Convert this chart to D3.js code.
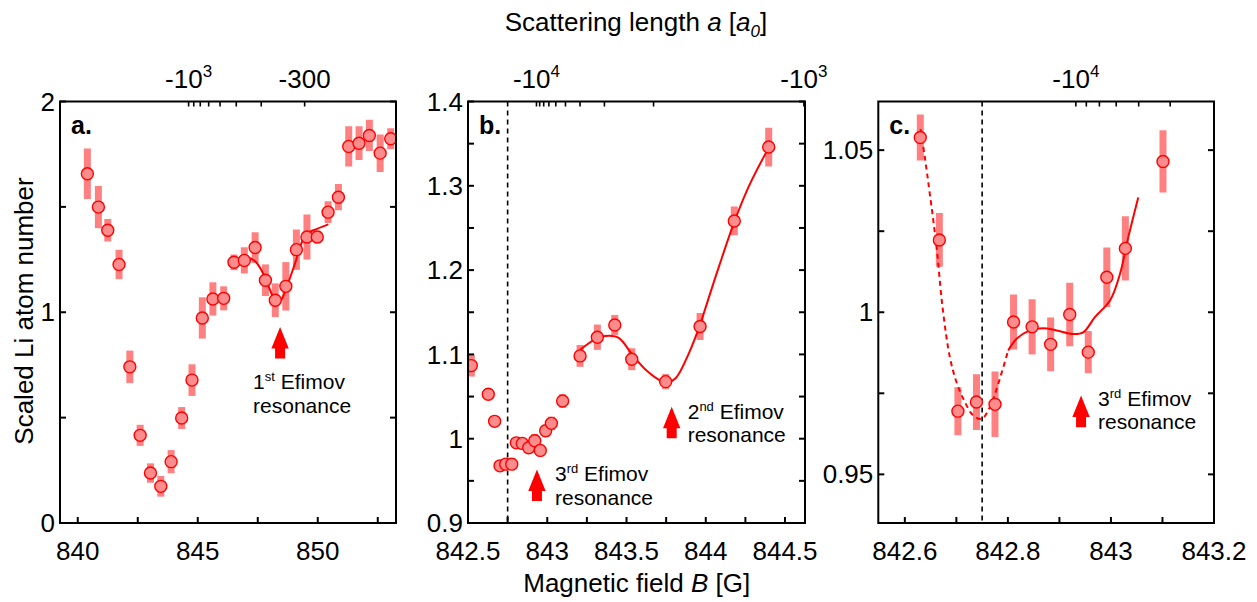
<!DOCTYPE html>
<html>
<head>
<meta charset="utf-8">
<script src="https://cdn.jsdelivr.net/npm/d3@7"></script>
<style>
  html, body { margin: 0; padding: 0; background: #ffffff; }
  svg { display: block; font-family: "Liberation Sans", Arial, Helvetica, sans-serif; }
</style>
</head>
<body>
<svg id="chart" width="1257" height="602"></svg>
<script>
// ---------------- DATA ----------------
// Panel a
const aField = [840.40,840.86,841.25,841.72,842.17,842.60,843.03,843.46,843.89,844.33,844.76,845.19,845.63,846.08,846.51,846.94,847.39,847.82,848.23,848.67,849.11,849.55,849.98,850.43,850.86,851.29,851.72,852.15,852.60,853.04];
const aAtoms = [1.657,1.499,1.389,1.227,0.741,0.416,0.237,0.174,0.291,0.498,0.678,0.973,1.063,1.066,1.237,1.246,1.307,1.152,1.057,1.123,1.297,1.357,1.357,1.475,1.546,1.787,1.802,1.839,1.755,1.823];
const aErr = [0.12,0.10,0.053,0.07,0.077,0.05,0.046,0.049,0.055,0.052,0.075,0.098,0.079,0.057,0.037,0.062,0.073,0.075,0.08,0.115,0.096,0.107,0.03,0.052,0.062,0.096,0.08,0.074,0.089,0.05];
const aFitField = [846.51,847.11,847.43,847.80,848.05,848.29,848.47,848.73,849.05,849.40,849.60,849.82,850.44];
const aFitAtoms = [1.238,1.259,1.237,1.167,1.095,1.041,1.057,1.128,1.231,1.349,1.377,1.389,1.417];

// Panel b
const bField = [842.521,842.628,842.668,842.702,842.738,842.776,842.805,842.843,842.883,842.921,842.956,842.990,843.026,843.097,843.207,843.316,843.426,843.533,843.747,843.964,844.180,844.397];
const bAtoms = [1.0867,1.0527,1.0206,0.9678,0.9698,0.9698,0.9951,0.9944,0.9892,0.9975,0.9861,1.0094,1.0182,1.0447,1.0982,1.1204,1.1348,1.0943,1.0677,1.1331,1.2583,1.3460];
const bErr = [0.013,0.004,0.006,0.003,0.003,0.007,0.004,0.004,0.005,0.008,0.005,0.007,0.008,0.008,0.013,0.015,0.012,0.013,0.009,0.016,0.017,0.023];
const bFitField = [843.207,843.316,843.390,843.453,843.537,843.621,843.726,843.757,843.810,843.894,843.968,843.995,844.084,844.183,844.273,844.397];
const bFitAtoms = [1.1054,1.1193,1.1220,1.1193,1.0995,1.0817,1.0677,1.0666,1.0718,1.1016,1.1373,1.1532,1.2047,1.2587,1.2999,1.3453];

// Panel c
const cField = [842.630,842.667,842.703,842.739,842.775,842.811,842.847,842.883,842.920,842.956,842.992,843.028,843.101];
const cAtoms = [1.0539,1.0223,0.9695,0.9723,0.9716,0.9970,0.9955,0.9901,0.9993,0.9877,1.0108,1.0197,1.0465];
const cErr = [0.0071,0.0083,0.0074,0.0086,0.0101,0.0085,0.0085,0.0083,0.0098,0.0065,0.0092,0.0099,0.0096];
const cDashField = [842.6305,842.6388,842.6485,842.6616,842.6732,842.6874,842.7004,842.7151,842.7326,842.7489,842.7650,842.7812,842.8006];
const cDashAtoms = [1.0565,1.0478,1.0365,1.0200,1.0015,0.9861,0.9784,0.9728,0.9682,0.9671,0.9707,0.9779,0.9882];
const cFitField = [842.8006,842.8169,842.8427,842.8685,842.8946,842.9268,842.9462,842.9689,842.9981,843.0175,843.0336,843.0530];
const cFitAtoms = [0.9882,0.9918,0.9944,0.9951,0.9944,0.9933,0.9938,0.9985,1.0036,1.0118,1.0231,1.0354];

// Axis ticks
const aXMajor = [840,845,850];
const aXMinor = [842.5,847.5,852.5];
const aYMajor = [0,1,2];
const aYMinor = [0.5,1.5];
const bXMajor = [842.5,843,843.5,844,844.5];
const bXMinor = [842.75,843.25,843.75,844.25];
const bYMajor = [0.9,1.0,1.1,1.2,1.3,1.4];
const bYMinor = [0.95,1.05,1.15,1.25,1.35];
const cXMajor = [842.6,842.8,843.0,843.2];
const cXMinor = [842.7,842.9,843.1];
const cYMajor = [0.95,1.0,1.05];
const cYMinor = [0.975,1.025];

// Scattering length (top axis) ticks, in units of a0
const aTopTicks = [-1000,-900,-800,-700,-600,-500,-400,-300];
const aTopLabels = [{a:-1000, base:"-10", sup:"3"}, {a:-300, base:"-300", sup:""}];
const bTopTicks = [-10000,-9000,-8000,-7000,-6000,-5000,-4000,-3000,-2000,-1000];
const bTopLabels = [{a:-10000, base:"-10", sup:"4"}, {a:-1000, base:"-10", sup:"3"}];
const cTopTicks = [-10000,-9000,-8000,-7000,-6000,-5000];
const cTopLabels = [{a:-10000, base:"-10", sup:"4"}];

// Feshbach resonance parameters
const B0 = 842.75, aBg = -29.4, deltaB = -61.7;
const fieldForA = a => B0 + deltaB / (1 - a / aBg);

// Annotations
const aArrows = [{B:848.43, N:0.930, line1:"1", sup:"st", rest:" Efimov", tx:-27, ty:62}];
const bArrows = [{B:842.935, N:0.9635, line1:"3", sup:"rd", rest:" Efimov", tx:18, ty:12},
                 {B:843.785, N:1.0379, line1:"2", sup:"nd", rest:" Efimov", tx:16, ty:12}];
const cArrows = [{B:842.942, N:0.9743, line1:"3", sup:"rd", rest:" Efimov", tx:17, ty:10}];

// ---------------- LAYOUT ----------------
const TOP_Y = 101.5, BOTTOM_Y = 523;
const RED = "#ff0000";
const panels = [
  {label:"a.", left:60, right:396, xDom:[839.26,853.26], yDom:[0,2],
   field:aField, atoms:aAtoms, err:aErr, fits:[{f:aFitField, n:aFitAtoms, dash:false}],
   xMaj:aXMajor, xMin:aXMinor, yMaj:aYMajor, yMin:aYMinor, topT:aTopTicks, topLab:aTopLabels,
   arrows:aArrows, dashed:false},
  {label:"b.", left:468, right:805, xDom:[842.5,844.626], yDom:[0.9,1.4],
   field:bField, atoms:bAtoms, err:bErr, fits:[{f:bFitField, n:bFitAtoms, dash:false}],
   xMaj:bXMajor, xMin:bXMinor, yMaj:bYMajor, yMin:bYMinor, topT:bTopTicks, topLab:bTopLabels,
   arrows:bArrows, dashed:true},
  {label:"c.", left:878.3, right:1214, xDom:[842.5485,843.2], yDom:[0.935,1.065],
   field:cField, atoms:cAtoms, err:cErr,
   fits:[{f:cDashField, n:cDashAtoms, dash:true},{f:cFitField, n:cFitAtoms, dash:false}],
   xMaj:cXMajor, xMin:cXMinor, yMaj:cYMajor, yMin:cYMinor, topT:cTopTicks, topLab:cTopLabels,
   arrows:cArrows, dashed:true}
];

const svg = d3.select("#chart");
const TICK_FONT = 26, TICK = 6;
const fmt = v => String(+v.toFixed(4));

panels.forEach(p => {
  const x = d3.scaleLinear().domain(p.xDom).range([p.left, p.right]);
  const y = d3.scaleLinear().domain(p.yDom).range([BOTTOM_Y, TOP_Y]);
  const g = svg.append("g");

  const cid = "clip" + p.label[0];
  svg.append("clipPath").attr("id", cid).append("rect")
    .attr("x", p.left).attr("y", TOP_Y).attr("width", p.right - p.left).attr("height", BOTTOM_Y - TOP_Y);

  if (p.dashed) {
    g.append("line").attr("x1", x(B0)).attr("x2", x(B0)).attr("y1", TOP_Y).attr("y2", BOTTOM_Y)
      .attr("stroke", "#000").attr("stroke-width", 1.6).attr("stroke-dasharray", "5,4");
  }

  const data = p.field.map((f, i) => ({f, n:p.atoms[i], e:p.err[i]}));
  const plot = g.append("g").attr("clip-path", `url(#${cid})`);
  plot.selectAll(".eb").data(data).join("line")
    .attr("x1", d => x(d.f)).attr("x2", d => x(d.f))
    .attr("y1", d => y(d.n - d.e)).attr("y2", d => y(d.n + d.e))
    .attr("stroke", "#ff8080").attr("stroke-width", 7);
  const line = d3.line().x(d => x(d[0])).y(d => y(d[1])).curve(d3.curveCatmullRom.alpha(0.5));
  p.fits.forEach(ft => {
    plot.append("path").datum(ft.f.map((f, i) => [f, ft.n[i]]))
      .attr("d", line).attr("fill", "none").attr("stroke", RED).attr("stroke-width", 2)
      .attr("stroke-dasharray", ft.dash ? "5,4" : null);
  });
  plot.selectAll(".pt").data(data).join("circle")
    .attr("cx", d => x(d.f)).attr("cy", d => y(d.n)).attr("r", 6)
    .attr("fill", "#ff8c8c").attr("stroke", RED).attr("stroke-width", 1.4);

  g.append("rect").attr("x", p.left).attr("y", TOP_Y).attr("width", p.right - p.left)
    .attr("height", BOTTOM_Y - TOP_Y).attr("fill", "none").attr("stroke", "#000").attr("stroke-width", 2);

  const allX = p.xMaj.concat(p.xMin);
  g.selectAll(".xt").data(allX).join("line")
    .attr("x1", d => x(d)).attr("x2", d => x(d)).attr("y1", BOTTOM_Y).attr("y2", BOTTOM_Y - TICK)
    .attr("stroke", "#000").attr("stroke-width", 2);
  g.selectAll(".xl").data(p.xMaj).join("text")
    .attr("x", d => x(d)).attr("y", BOTTOM_Y + 37).attr("text-anchor", "middle")
    .attr("font-size", TICK_FONT).text(fmt);

  const allY = p.yMaj.concat(p.yMin);
  g.selectAll(".yl1").data(allY).join("line")
    .attr("x1", p.left).attr("x2", p.left + TICK).attr("y1", d => y(d)).attr("y2", d => y(d))
    .attr("stroke", "#000").attr("stroke-width", 2);
  g.selectAll(".yr1").data(allY).join("line")
    .attr("x1", p.right).attr("x2", p.right - TICK).attr("y1", d => y(d)).attr("y2", d => y(d))
    .attr("stroke", "#000").attr("stroke-width", 2);
  g.selectAll(".ylab").data(p.yMaj).join("text")
    .attr("x", p.left - 5).attr("y", d => y(d)).attr("dy", "0.35em").attr("text-anchor", "end")
    .attr("font-size", TICK_FONT).text(fmt);

  g.selectAll(".tt").data(p.topT).join("line")
    .attr("x1", d => x(fieldForA(d))).attr("x2", d => x(fieldForA(d)))
    .attr("y1", TOP_Y).attr("y2", TOP_Y + 5)
    .attr("stroke", "#000").attr("stroke-width", 1.6);
  p.topLab.forEach(l => {
    const t = g.append("text").attr("x", x(fieldForA(l.a))).attr("y", TOP_Y - 14)
      .attr("text-anchor", "middle").attr("font-size", TICK_FONT);
    t.append("tspan").text(l.base);
    if (l.sup) t.append("tspan").attr("font-size", 17).attr("dy", -11).text(l.sup);
  });

  g.append("text").attr("x", p.left + 11).attr("y", 134).attr("font-size", 25)
    .attr("font-weight", "bold").text(p.label);

  p.arrows.forEach(a => {
    const cx = x(a.B), ty = y(a.N);
    const path = d3.path();
    path.moveTo(cx, ty);
    path.lineTo(cx + 8.7, ty + 21.5);
    path.lineTo(cx + 5, ty + 21.5);
    path.lineTo(cx + 5, ty + 31.6);
    path.lineTo(cx - 5, ty + 31.6);
    path.lineTo(cx - 5, ty + 21.5);
    path.lineTo(cx - 8.7, ty + 21.5);
    path.closePath();
    g.append("path").attr("d", path.toString()).attr("fill", RED);
    const t1 = g.append("text").attr("x", cx + a.tx).attr("y", ty + a.ty).attr("font-size", 21);
    t1.append("tspan").text(a.line1);
    t1.append("tspan").attr("font-size", 13).attr("dy", -8).text(a.sup);
    t1.append("tspan").attr("dy", 8).text(a.rest);
    g.append("text").attr("x", cx + a.tx).attr("y", ty + a.ty + 23.5).attr("font-size", 21).text("resonance");
  });
});

const topTitle = svg.append("text").attr("x", 636).attr("y", 31).attr("text-anchor", "middle").attr("font-size", 26);
topTitle.append("tspan").text("Scattering length ");
topTitle.append("tspan").attr("font-style", "italic").text("a");
topTitle.append("tspan").text(" [");
topTitle.append("tspan").attr("font-style", "italic").text("a");
topTitle.append("tspan").attr("font-style", "italic").attr("font-size", 17).attr("dy", 6).text("0");
topTitle.append("tspan").attr("dy", -6).text("]");

const botTitle = svg.append("text").attr("x", 636.7).attr("y", 592).attr("text-anchor", "middle").attr("font-size", 26);
botTitle.append("tspan").text("Magnetic field ");
botTitle.append("tspan").attr("font-style", "italic").text("B");
botTitle.append("tspan").text(" [G]");

svg.append("text").attr("transform", "translate(33,311) rotate(-90)").attr("text-anchor", "middle")
  .attr("font-size", 26).text("Scaled Li atom number");
</script>
</body>
</html>
